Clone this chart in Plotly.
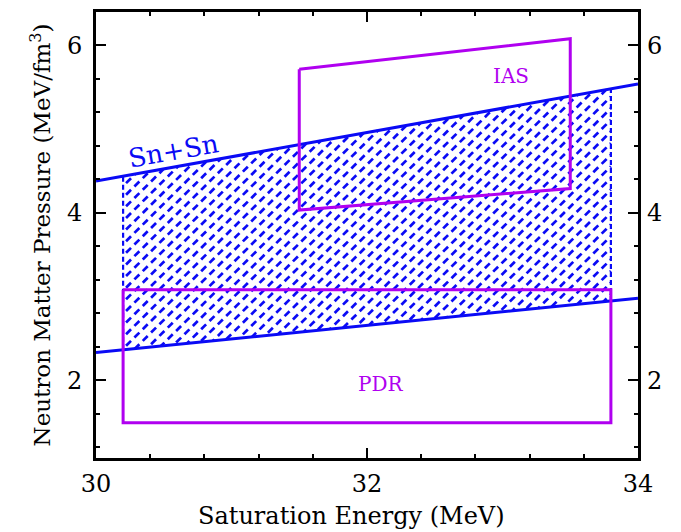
import numpy as np
import plotly.graph_objects as go

# Sn+Sn constraint band: pressure vs saturation energy (straight boundaries)
sn_x = [30.0, 34.0]
sn_upper = [4.38, 5.54]
sn_lower = [2.33, 2.98]
sn_hatch_x = [30.2, 33.8]

# IAS constraint: parallelogram corners (x, y)
ias_x = [31.5, 33.5, 33.5, 31.5, 31.5]
ias_y = [5.715, 6.08, 4.29, 4.033, 5.715]

# PDR constraint: rectangle
pdr_x = [30.2, 33.8, 33.8, 30.2, 30.2]
pdr_y = [3.08, 3.08, 1.49, 1.49, 3.08]

X_RANGE = [30.0, 34.0]
Y_RANGE = [1.07, 6.40]

W, H = 681, 532
M = dict(l=96, r=43, t=9, b=74)
BLUE = "#0a0af5"
PURPLE = "#b000f0"
FONT = "DejaVu Serif"

kx = (W - M["l"] - M["r"]) / (X_RANGE[1] - X_RANGE[0])   # px per x unit
ky = (H - M["t"] - M["b"]) / (Y_RANGE[1] - Y_RANGE[0])   # px per y unit


def upper(x):
    b = (sn_upper[1] - sn_upper[0]) / (sn_x[1] - sn_x[0])
    return sn_upper[0] + b * (x - sn_x[0])


def lower(x):
    b = (sn_lower[1] - sn_lower[0]) / (sn_x[1] - sn_x[0])
    return sn_lower[0] + b * (x - sn_x[0])


def clip_segment(p0, p1):
    """Clip a segment to the hatched band; returns None if fully outside."""
    funcs = [
        lambda p: sn_hatch_x[0] - p[0],
        lambda p: p[0] - sn_hatch_x[1],
        lambda p: p[1] - upper(p[0]),
        lambda p: lower(p[0]) - p[1],
    ]
    t0, t1 = 0.0, 1.0
    for f in funcs:
        f0, f1 = f(p0), f(p1)
        if f0 > 0 and f1 > 0:
            return None
        if f0 > 0:
            t0 = max(t0, f0 / (f0 - f1))
        elif f1 > 0:
            t1 = min(t1, f0 / (f0 - f1))
    if t1 - t0 < 0.15:
        return None
    d = (p1[0] - p0[0], p1[1] - p0[1])
    return ((p0[0] + t0 * d[0], p0[1] + t0 * d[1]),
            (p0[0] + t1 * d[0], p0[1] + t1 * d[1]))


# dashed diagonal hatch, built in pixel space then mapped to data units
spacing_h = 11.7      # horizontal distance between hatch lines (px)
period = 11.8         # dash period along a line (px)
dash_len = 7.0        # dash length (px)
step = period / np.sqrt(2)
dl = dash_len / np.sqrt(2)
u_max = (X_RANGE[1] - X_RANGE[0]) * kx
v_max = (Y_RANGE[1] - Y_RANGE[0]) * ky
hx, hy = [], []
for c in np.arange(-v_max - 20, u_max + 20, spacing_h):
    for u in np.arange(-20, u_max + 20, step):
        v = u - c
        if v < -20 or v > v_max + 20:
            continue
        p0 = (X_RANGE[0] + u / kx, Y_RANGE[0] + v / ky)
        p1 = (X_RANGE[0] + (u + dl) / kx, Y_RANGE[0] + (v + dl) / ky)
        seg = clip_segment(p0, p1)
        if seg is None:
            continue
        hx += [seg[0][0], seg[1][0], None]
        hy += [seg[0][1], seg[1][1], None]

fig = go.Figure()

fig.add_trace(go.Scatter(x=hx, y=hy, mode="lines",
                         line=dict(color=BLUE, width=2.7),
                         hoverinfo="skip", showlegend=False))

# dashed vertical edges of the hatched band
for xe in sn_hatch_x:
    fig.add_trace(go.Scatter(x=[xe, xe], y=[lower(xe), upper(xe)], mode="lines",
                             line=dict(color=BLUE, width=2.2, dash="5px,3px"),
                             showlegend=False))

# Sn+Sn boundary lines
fig.add_trace(go.Scatter(x=sn_x, y=sn_upper, mode="lines",
                         line=dict(color=BLUE, width=3), showlegend=False))
fig.add_trace(go.Scatter(x=sn_x, y=sn_lower, mode="lines",
                         line=dict(color=BLUE, width=3), showlegend=False))

# IAS and PDR outlines
fig.add_trace(go.Scatter(x=ias_x, y=ias_y, mode="lines",
                         line=dict(color=PURPLE, width=3), showlegend=False))
fig.add_trace(go.Scatter(x=pdr_x, y=pdr_y, mode="lines",
                         line=dict(color=PURPLE, width=3), showlegend=False))

# invisible trace to carry the right-hand axis
fig.add_trace(go.Scatter(x=[30], y=[2], yaxis="y2", mode="lines",
                         line=dict(width=0), hoverinfo="skip", showlegend=False))

fig.add_annotation(x=30.57, y=4.74, text="Sn+Sn", showarrow=False,
                   textangle=-10, font=dict(family=FONT, size=26, color=BLUE))
fig.add_annotation(x=33.06, y=5.64, text="IAS", showarrow=False,
                   font=dict(family=FONT, size=20, color=PURPLE))
fig.add_annotation(x=32.1, y=1.96, text="PDR", showarrow=False,
                   font=dict(family=FONT, size=20, color=PURPLE))

# x-axis title
fig.add_annotation(x=0.472, y=-0.131, xref="paper", yref="paper",
                   text="Saturation Energy (MeV)", showarrow=False,
                   xanchor="center", yanchor="middle",
                   font=dict(family=FONT, size=24, color="black"))

axis_common = dict(
    showgrid=False, zeroline=False, showline=True, linecolor="black", linewidth=3,
    ticks="inside", ticklen=10, tickwidth=2, tickcolor="black",
    tickfont=dict(family=FONT, size=24, color="black"),
)

fig.update_layout(
    width=W, height=H, margin=M,
    paper_bgcolor="white", plot_bgcolor="white",
    xaxis=dict(range=X_RANGE, dtick=2, tick0=30, mirror="ticks",
               minor=dict(dtick=0.4, tick0=30, ticklen=4, tickwidth=2,
                          ticks="inside", tickcolor="black"),
               ticklabelstandoff=2,
               **axis_common),
    yaxis=dict(range=Y_RANGE, dtick=2, tick0=0, mirror="ticks",
               minor=dict(dtick=0.4, tick0=0, ticklen=4, tickwidth=2,
                          ticks="inside", tickcolor="black"),
               ticklabelstandoff=6,
               title=dict(text="Neutron Matter Pressure (MeV/fm<sup>3</sup>)", standoff=10,
                          font=dict(family=FONT, size=23, color="black")),
               **axis_common),
    yaxis2=dict(range=Y_RANGE, dtick=2, tick0=0, overlaying="y", side="right",
                showgrid=False, zeroline=False, showline=False,
                ticks="", ticklabelstandoff=8,
                tickfont=dict(family=FONT, size=24, color="black")),
)

fig.write_html("out.html")
